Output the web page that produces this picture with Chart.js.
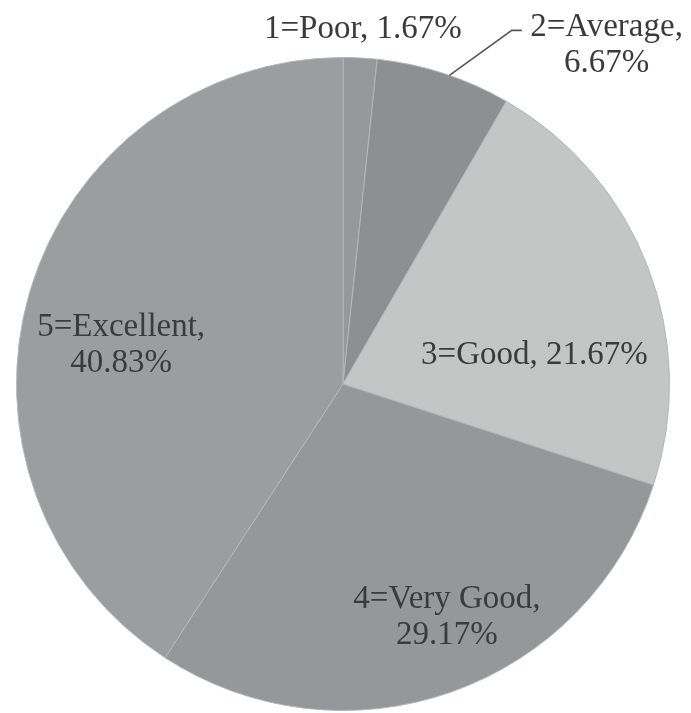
<!DOCTYPE html>
<html>
<head>
<meta charset="utf-8">
<script src="https://cdn.jsdelivr.net/npm/chart.js@4/dist/chart.umd.min.js"></script>
<style>
  html, body { margin: 0; padding: 0; background: #ffffff; }
  #wrap { width: 691px; height: 713px; }
</style>
</head>
<body>
<div id="wrap"><canvas id="c" width="691" height="713"></canvas></div>
<script>
// Survey rating shares (percent of responses)
const categories = ['1=Poor', '2=Average', '3=Good', '4=Very Good', '5=Excellent'];
const shares = [1.67, 6.67, 21.67, 29.17, 40.83];
const sliceColors = ['#969999', '#8d9090', '#c4c6c6', '#959898', '#9b9e9e'];

// Where each label sits: angle (deg, clockwise from 12 o'clock) and distance as a fraction of the radius
const labelSpots = [
  { angle: 3.2, dist: 1.089, lines: (c, v) => [c + ', ' + v + '%'] },
  { angle: 37.9, dist: 1.314, lines: (c, v) => [c + ',', v + '%'], leader: true },
  { angle: 81.4, dist: 0.593, lines: (c, v) => [c + ', ' + v + '%'] },
  { angle: 156, dist: 0.783, lines: (c, v) => [c + ',', v + '%'] },
  { angle: 280, dist: 0.69, lines: (c, v) => [c + ',', v + '%'] }
];

const sliceLabels = {
  id: 'sliceLabels',
  afterDatasetsDraw(chart) {
    const ctx = chart.ctx;
    const meta = chart.getDatasetMeta(0);
    const first = meta.data[0];
    const cx = first.x, cy = first.y, r = first.outerRadius;
    const at = (deg, f) => {
      const a = deg * Math.PI / 180;
      return [cx + Math.sin(a) * r * f, cy - Math.cos(a) * r * f];
    };
    ctx.save();
    ctx.font = '33px "Liberation Serif", "Times New Roman", serif';
    ctx.fillStyle = '#3b3b3b';
    ctx.textAlign = 'center';
    ctx.textBaseline = 'middle';
    const lh = 36;
    meta.data.forEach((arc, i) => {
      const spot = labelSpots[i];
      const lines = spot.lines(categories[i], shares[i].toFixed(2));
      const [x, y] = at(spot.angle, spot.dist);
      lines.forEach((t, k) => {
        ctx.fillText(t, x, y + (k - (lines.length - 1) / 2) * lh);
      });
      if (spot.leader) {
        const mid = (arc.startAngle + arc.endAngle) / 2 + Math.PI / 2;
        const midDeg = mid * 180 / Math.PI;
        const [x0, y0] = at(midDeg + 1, 1.0);
        const [x1, y1] = at(midDeg + 7.5, 1.2);
        ctx.strokeStyle = '#555858';
        ctx.lineWidth = 1.6;
        ctx.beginPath();
        ctx.moveTo(x0, y0);
        ctx.lineTo(x1, y1);
        ctx.lineTo(x1 + 10, y1);
        ctx.stroke();
      }
    });
    ctx.restore();
  }
};

new Chart(document.getElementById('c'), {
  type: 'pie',
  data: {
    labels: categories,
    datasets: [{
      data: shares,
      backgroundColor: sliceColors,
      borderColor: '#b4b7b7',
      borderWidth: 1
    }]
  },
  options: {
    responsive: false,
    animation: false,
    layout: { padding: { left: 16, right: 21, top: 57, bottom: 2 } },
    plugins: {
      legend: { display: false },
      tooltip: { enabled: false }
    }
  },
  plugins: [sliceLabels]
});
</script>
</body>
</html>
